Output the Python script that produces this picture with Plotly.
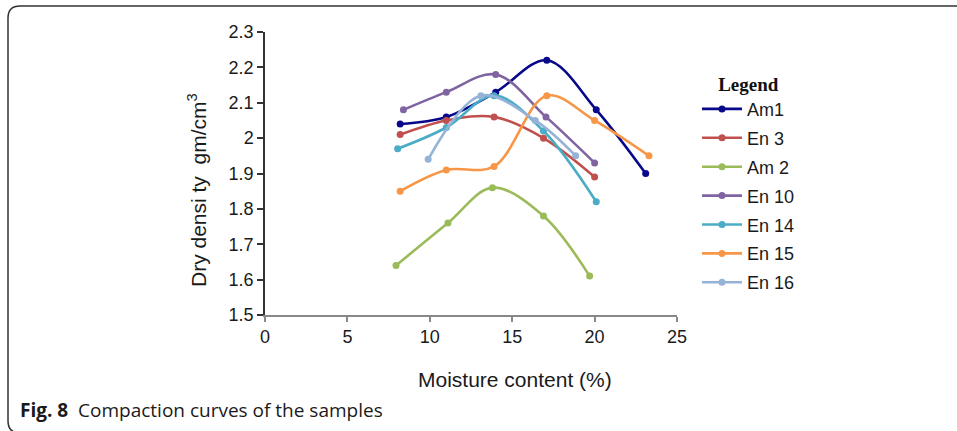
import plotly.graph_objects as go

# ---- data ----
series_names = ["Am1", "En 3", "Am 2", "En 10", "En 14", "En 15", "En 16"]
series_colors = ["#08088A", "#C0504D", "#9BBB59", "#8064A2", "#4BACC6", "#F79646", "#95B3D7"]

moisture_am1 = [8.2, 11.0, 14.0, 17.1, 20.1, 23.1]
density_am1 = [2.04, 2.06, 2.13, 2.22, 2.08, 1.90]

moisture_en3 = [8.2, 11.0, 13.9, 16.9, 20.0]
density_en3 = [2.01, 2.05, 2.06, 2.00, 1.89]

moisture_am2 = [7.95, 11.1, 13.8, 16.9, 19.7]
density_am2 = [1.64, 1.76, 1.86, 1.78, 1.61]

moisture_en10 = [8.4, 11.0, 14.0, 17.05, 20.0]
density_en10 = [2.08, 2.13, 2.18, 2.06, 1.93]

moisture_en14 = [8.05, 11.0, 13.9, 16.9, 20.1]
density_en14 = [1.97, 2.03, 2.12, 2.02, 1.82]

moisture_en15 = [8.2, 11.0, 13.9, 17.1, 20.0, 23.3]
density_en15 = [1.85, 1.91, 1.92, 2.12, 2.05, 1.95]

moisture_en16 = [9.9, 13.1, 16.4, 18.85]
density_en16 = [1.94, 2.12, 2.05, 1.95]

x_ticks = [0, 5, 10, 15, 20, 25]
y_ticks = [1.5, 1.6, 1.7, 1.8, 1.9, 2.0, 2.1, 2.2, 2.3]
y_tick_labels = ["1.5", "1.6", "1.7", "1.8", "1.9", "2", "2.1", "2.2", "2.3"]

xs = [moisture_am1, moisture_en3, moisture_am2, moisture_en10, moisture_en14, moisture_en15, moisture_en16]
ys = [density_am1, density_en3, density_am2, density_en10, density_en14, density_en15, density_en16]

W, H = 957, 431
L, R, T, B = 265, 280, 32, 116
pw = W - L - R
ph = H - T - B


def px(xp):
    return (xp - L) / pw


def py(yp):
    return (H - B - yp) / ph


fig = go.Figure()
for name, color, x, y in zip(series_names, series_colors, xs, ys):
    fig.add_trace(go.Scatter(
        x=x, y=y, name=name, mode="lines+markers",
        line=dict(color=color, width=2.6, shape="spline", smoothing=1.0),
        marker=dict(color=color, size=7, symbol="circle"),
        legendgroup=name,
    ))

font_main = "Liberation Sans, Arial, sans-serif"

# rounded frame (open on the right, bottom edge just below the picture)
x0, x1 = px(8), px(975)
yt, yb = py(6), py(433)
rx, ry = 12 / pw, 12 / ph
frame = (f"M{x1},{yt} L{x0 + rx},{yt} Q{x0},{yt} {x0},{yt - ry} "
         f"L{x0},{yb + ry} Q{x0},{yb} {x0 + rx},{yb} L{x1},{yb}")

fig.update_layout(
    width=W, height=H,
    margin=dict(l=L, r=R, t=T, b=B, pad=0),
    paper_bgcolor="white", plot_bgcolor="white",
    font=dict(family=font_main, size=18, color="#1a1a1a"),
    showlegend=True,
    legend=dict(
        x=px(697), y=py(66), xanchor="left", yanchor="top",
        title=dict(text="<b>Legend</b>", side="top center",
                   font=dict(family="Liberation Serif, Times New Roman, serif", size=19, color="#111")),
        font=dict(family=font_main, size=18, color="#1a1a1a"),
        tracegroupgap=2.5, itemwidth=40,
        bgcolor="rgba(0,0,0,0)",
    ),
    xaxis=dict(
        range=[0, 25], tickvals=x_ticks, ticks="outside", ticklen=5, tickwidth=1.5,
        tickcolor="#888", showline=True, linecolor="#888", linewidth=1.5,
        showgrid=False, zeroline=False, tickfont=dict(size=18),
    ),
    yaxis=dict(
        range=[1.5, 2.3], tickvals=y_ticks, ticktext=y_tick_labels, ticks="outside",
        ticklen=6, tickwidth=1.5, tickcolor="#333", showline=True, linecolor="#333",
        linewidth=1.5, showgrid=False, zeroline=False, tickfont=dict(size=18),
    ),
    shapes=[dict(type="path", path=frame, xref="paper", yref="paper",
                 line=dict(color="#333", width=1.5))],
    annotations=[
        dict(text="Moisture content (%)",
             x=px(515), y=py(379), xref="paper", yref="paper",
             xanchor="center", yanchor="middle", showarrow=False,
             font=dict(family=font_main, size=21, color="#1a1a1a")),
        dict(text="Dry densi ty  gm/cm<sup>3</sup>", textangle=-90,
             x=px(197), y=py(190), xref="paper", yref="paper",
             xanchor="center", yanchor="middle", showarrow=False,
             font=dict(family=font_main, size=21, color="#1a1a1a")),
        dict(text="<b>Fig. 8</b>  Compaction curves of the samples",
             x=px(18), y=py(410), xref="paper", yref="paper",
             xanchor="left", yanchor="middle", showarrow=False,
             font=dict(family="Open Sans, Noto Sans, sans-serif", size=19, color="#1a1a1a")),
    ],
)

fig.write_html("out.html")
